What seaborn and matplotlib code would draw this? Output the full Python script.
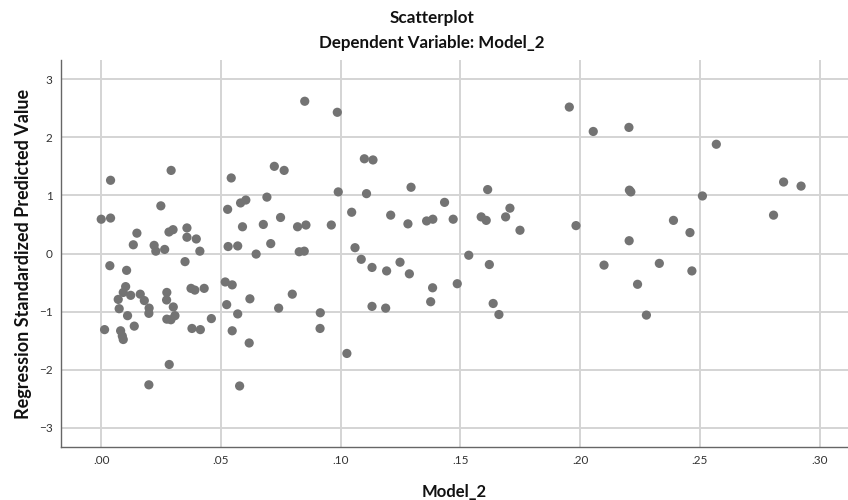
import matplotlib
matplotlib.use("Agg")
import matplotlib.pyplot as plt
import seaborn as sns
import pandas as pd

model_2 = [
    0.0039, 0.0292, 0.0000, 0.0039, 0.0249, 0.0149, 0.0134, 0.0221, 0.0228, 0.0265,
    0.0283, 0.0300, 0.0358, 0.0358, 0.0397, 0.0412, 0.0543, 0.0528, 0.0582, 0.0604,
    0.0692, 0.0723, 0.0590, 0.0677, 0.0530, 0.0570, 0.0708, 0.0647,
    0.0036, 0.0106, 0.0350, 0.0102, 0.0092, 0.0123, 0.0071, 0.0163, 0.0180, 0.0075,
    0.0110, 0.0200, 0.0199, 0.0274, 0.0273, 0.0301, 0.0308, 0.0274, 0.0291, 0.0375,
    0.0391, 0.0430, 0.0460, 0.0379, 0.0414, 0.0014, 0.0081, 0.0088, 0.0092, 0.0138,
    0.0284, 0.0199, 0.0518, 0.0547, 0.0524, 0.0570, 0.0547, 0.0621, 0.0618, 0.0578,
    0.0850, 0.0986, 0.0764, 0.1099, 0.1135, 0.0990, 0.1108, 0.1294, 0.1434, 0.1046,
    0.1209, 0.0749, 0.0820, 0.0855, 0.0961, 0.1281, 0.1359, 0.1385, 0.1470, 0.0827,
    0.0848, 0.1060,
    0.1086, 0.1131, 0.1192, 0.1248, 0.1287, 0.1384, 0.1376, 0.1487, 0.1131, 0.1188,
    0.0798, 0.0741, 0.0915, 0.0914, 0.1026,
    0.1955, 0.2055, 0.2204, 0.1614, 0.2206, 0.2212, 0.1587, 0.1608, 0.1689, 0.1707,
    0.1749, 0.1983, 0.2205, 0.1535, 0.1621, 0.2100,
    0.1637, 0.1661, 0.2240,
    0.2569, 0.2850, 0.2923, 0.2511, 0.2808, 0.2390, 0.2459, 0.2331, 0.2467, 0.2277,
]

predicted = [
    1.26, 1.43, 0.59, 0.61, 0.82, 0.35, 0.15, 0.14, 0.04, 0.07,
    0.37, 0.41, 0.44, 0.28, 0.25, 0.04, 1.30, 0.76, 0.87, 0.92,
    0.97, 1.50, 0.46, 0.50, 0.12, 0.13, 0.17, -0.01,
    -0.21, -0.29, -0.14, -0.57, -0.67, -0.72, -0.79, -0.70, -0.81, -0.95,
    -1.07, -0.94, -1.03, -0.67, -0.80, -0.92, -1.07, -1.13, -1.14, -0.60,
    -0.63, -0.60, -1.12, -1.29, -1.31, -1.31, -1.33, -1.42, -1.48, -1.25,
    -1.91, -2.26, -0.49, -0.54, -0.88, -1.04, -1.33, -0.78, -1.54, -2.28,
    2.62, 2.43, 1.43, 1.63, 1.61, 1.06, 1.03, 1.14, 0.88, 0.71,
    0.66, 0.62, 0.46, 0.49, 0.49, 0.51, 0.56, 0.59, 0.59, 0.03,
    0.04, 0.10,
    -0.10, -0.24, -0.30, -0.15, -0.35, -0.59, -0.83, -0.52, -0.91, -0.94,
    -0.70, -0.94, -1.02, -1.29, -1.72,
    2.52, 2.10, 2.17, 1.10, 1.09, 1.06, 0.63, 0.57, 0.63, 0.78,
    0.40, 0.48, 0.22, -0.03, -0.19, -0.20,
    -0.86, -1.05, -0.53,
    1.88, 1.23, 1.16, 0.99, 0.66, 0.57, 0.36, -0.17, -0.30, -1.06,
]

x_ticks = [0.00, 0.05, 0.10, 0.15, 0.20, 0.25, 0.30]
x_tick_labels = [".00", ".05", ".10", ".15", ".20", ".25", ".30"]
y_ticks = [-3, -2, -1, 0, 1, 2, 3]

df = pd.DataFrame({"Model_2": model_2, "Predicted": predicted})

sns.set_style("white")
plt.rcParams["font.family"] = ["Lato", "DejaVu Sans"]

fig = plt.figure(figsize=(8.48, 5.0), dpi=100)
ax = fig.add_axes([61 / 848, 1 - 447 / 500, 1 - 61 / 848, (447 - 60) / 500])

sns.scatterplot(data=df, x="Model_2", y="Predicted", ax=ax, color="#737373",
                s=44, edgecolor="none", linewidth=0, zorder=3)

ax.set_xlim(-0.0168, 0.3119)
ax.set_ylim(-3.33, 3.33)
ax.set_xticks(x_ticks)
ax.set_xticklabels(x_tick_labels)
ax.set_yticks(y_ticks)
ax.grid(True, color="#d4d4d4", linewidth=1.4, zorder=0)
ax.set_axisbelow(True)
for side in ["top", "right"]:
    ax.spines[side].set_visible(False)
for side in ["left", "bottom"]:
    ax.spines[side].set_color("#666666")
    ax.spines[side].set_linewidth(1.0)
ax.tick_params(axis="both", length=0, labelsize=8.5, labelcolor="#333333", pad=6)

ax.set_xlabel("Model_2", fontsize=12, fontweight="bold", color="#111111", labelpad=13)
ax.set_ylabel("Regression Standardized Predicted Value", fontsize=13,
              fontweight="bold", color="#111111", labelpad=5)

fig.text(432 / 848, 1 - 18 / 500, "Scatterplot", ha="center", va="center",
         fontsize=12.3, fontweight="bold", color="#111111")
fig.text(432 / 848, 1 - 43 / 500, "Dependent Variable: Model_2", ha="center",
         va="center", fontsize=12.2, fontweight="bold", color="#111111")

fig.savefig("out.png", dpi=100)
